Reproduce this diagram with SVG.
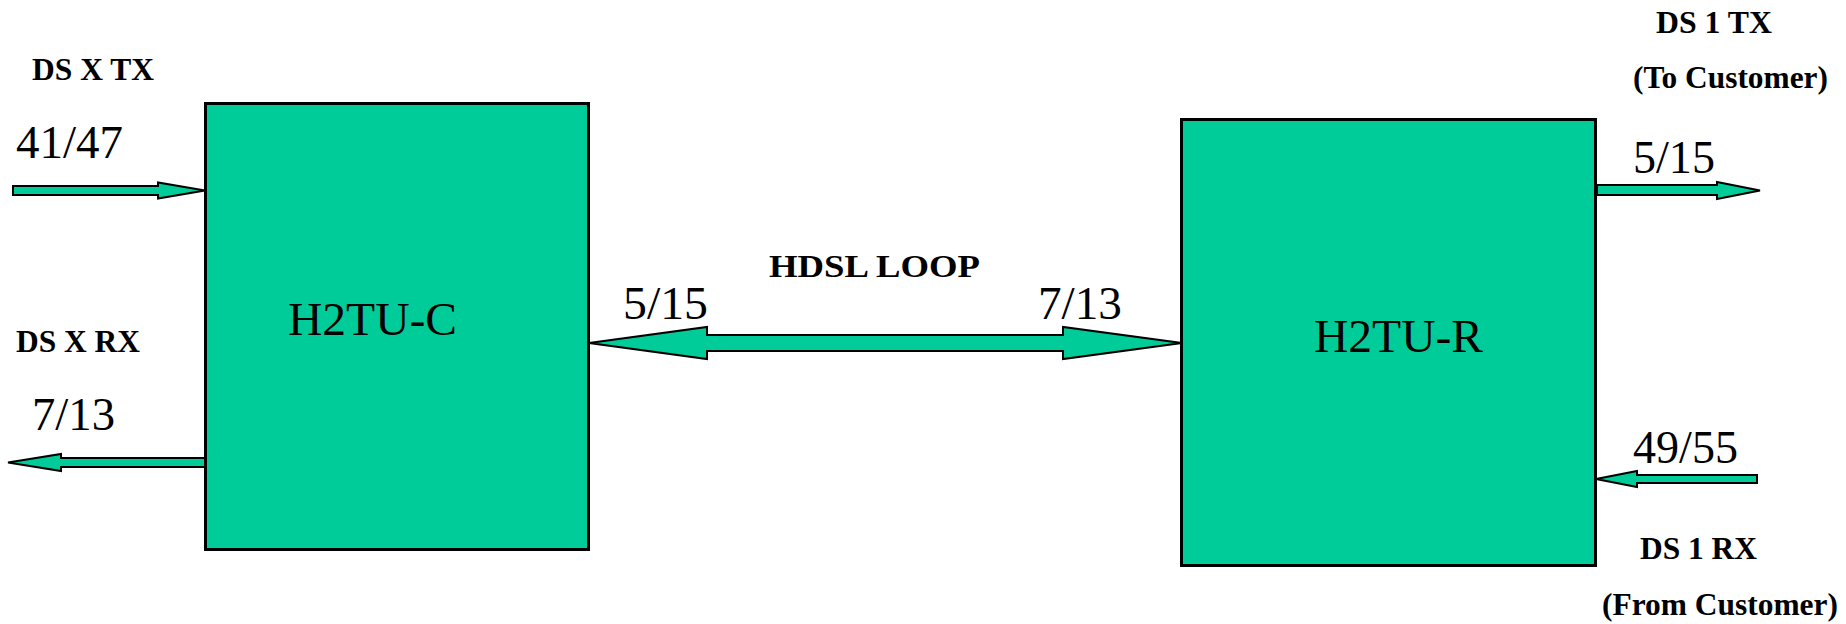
<svg xmlns="http://www.w3.org/2000/svg" width="1846" height="624" viewBox="0 0 1846 624">
<style>
.box{fill:#00CC99;stroke:#000;stroke-width:3}
.arr{fill:#00CC99;stroke:#000;stroke-width:2;stroke-linejoin:miter}
.lbl{font-family:"Liberation Serif","Times New Roman",serif;font-size:47px;fill:#000}
.bl{font-family:"Liberation Serif","Times New Roman",serif;font-size:32px;font-weight:bold;fill:#000}
</style>
<rect width="1846" height="624" fill="#fff"/>
<g id="connectors">
<polygon class="arr" points="13,186 158,186 158,182.5 205,190.5 158,198.5 158,195 13,195"/>
<polygon class="arr" points="205,458 61,458 61,454 8,462.5 61,471 61,467 205,467"/>
<polygon class="arr" points="589,343 707,327 707,335 1063,335 1063,327 1182,343 1063,359 1063,351 707,351 707,359"/>
<polygon class="arr" points="1597,185 1717,185 1717,182 1760,190.5 1717,199 1717,195 1597,195"/>
<polygon class="arr" points="1757,475 1637,475 1637,471 1596,479 1637,487 1637,483 1757,483"/>
</g>
<g id="node-h2tu-c">
<rect class="box" x="205.5" y="103.5" width="383" height="446"/>
<text class="lbl" x="288" y="335" textLength="169" lengthAdjust="spacingAndGlyphs">H2TU-C</text>
</g>
<g id="node-h2tu-r">
<rect class="box" x="1181.5" y="119.5" width="414" height="446"/>
<text class="lbl" x="1314" y="352" textLength="169" lengthAdjust="spacingAndGlyphs">H2TU-R</text>
</g>
<g id="labels">
<text class="bl" x="32" y="80" textLength="122" lengthAdjust="spacingAndGlyphs">DS X TX</text>
<text class="lbl" x="16" y="158" textLength="107" lengthAdjust="spacingAndGlyphs">41/47</text>
<text class="bl" x="16" y="352" textLength="124" lengthAdjust="spacingAndGlyphs">DS X RX</text>
<text class="lbl" x="32" y="430" textLength="83" lengthAdjust="spacingAndGlyphs">7/13</text>
<text class="bl" x="769" y="277" textLength="211" lengthAdjust="spacingAndGlyphs">HDSL LOOP</text>
<text class="lbl" x="623" y="319" textLength="85" lengthAdjust="spacingAndGlyphs">5/15</text>
<text class="lbl" x="1038" y="319" textLength="84" lengthAdjust="spacingAndGlyphs">7/13</text>
<text class="bl" x="1656" y="33" textLength="116" lengthAdjust="spacingAndGlyphs">DS 1 TX</text>
<text class="bl" x="1633" y="88" textLength="195" lengthAdjust="spacingAndGlyphs">(To Customer)</text>
<text class="lbl" x="1633" y="173" textLength="82" lengthAdjust="spacingAndGlyphs">5/15</text>
<text class="lbl" x="1633" y="463" textLength="105" lengthAdjust="spacingAndGlyphs">49/55</text>
<text class="bl" x="1640" y="559" textLength="117" lengthAdjust="spacingAndGlyphs">DS 1 RX</text>
<text class="bl" x="1602" y="615" textLength="236" lengthAdjust="spacingAndGlyphs">(From Customer)</text>
</g>
</svg>
